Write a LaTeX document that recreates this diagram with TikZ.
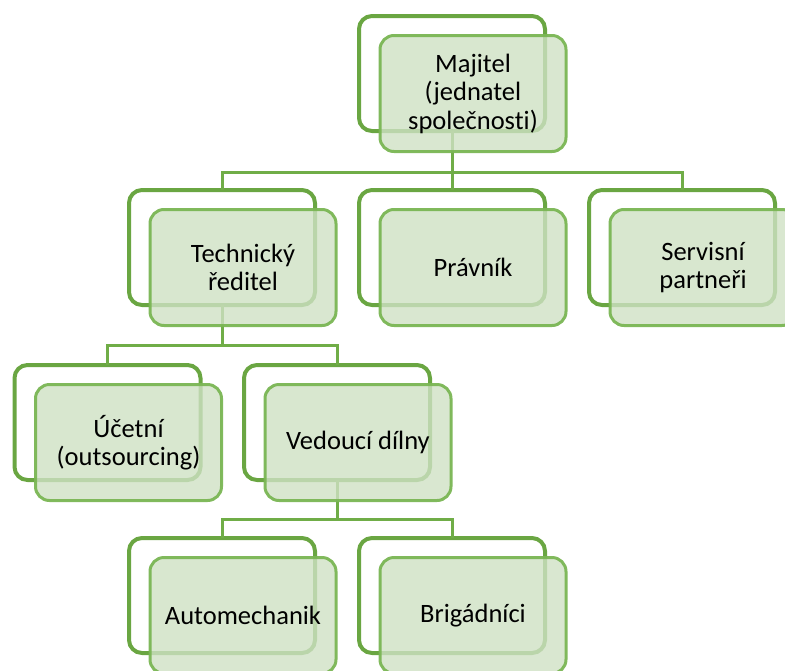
\documentclass[tikz,border=0pt]{standalone}
\usepackage{fontspec}
\setmainfont[Ligatures=NoCommon]{Carlito}
\definecolor{backgreen}{RGB}{106,166,66}
\definecolor{frontgreen}{RGB}{122,182,84}
\definecolor{fillgreen}{RGB}{207,225,196}
\definecolor{linegreen}{RGB}{112,173,71}
\begin{document}
\begin{tikzpicture}[x=1pt,y=1pt,
  back/.style={draw=backgreen, line width=4pt, fill=white, rounded corners=13pt,
    minimum width=186pt, minimum height=115pt, inner sep=0pt, outer sep=0pt},
  front/.style={draw=frontgreen, line width=3pt, fill=fillgreen, fill opacity=0.8,
    draw opacity=0.95, text opacity=1, rounded corners=14pt,
    minimum width=186pt, minimum height=116pt, inner sep=0pt, outer sep=0pt,
    align=center, font=\fontsize{26.5}{28.5}\selectfont},
  conn/.style={draw=linegreen, line width=3pt}]
\useasboundingbox (0,0) rectangle (785,-670);
\clip (0,0) rectangle (785,-670);
% bus coordinates
\coordinate (bus1) at (0,-172);
\coordinate (bus2) at (0,-345);
\coordinate (bus3) at (0,-519);
% back frames
\node[back] (Mb) at (452,-73.5) {};
\node[back] (Tb) at (222,-247.5) {};
\node[back] (Pb) at (452,-247.5) {};
\node[back] (Sb) at (682,-247.5) {};
\node[back] (Ub) at (107.5,-422.5) {};
\node[back] (Vb) at (337,-422.5) {};
\node[back] (Ab) at (222,-595.5) {};
\node[back] (Bb) at (452,-595.5) {};
% connectors
\draw[conn] (Mb.south) -- (Mb.south |- bus1);
\draw[conn] (Tb.north) |- (Sb.north |- bus1) -- (Sb.north);
\draw[conn] (Pb.north) -- (Pb.north |- bus1);
\draw[conn] (Tb.south) -- (Tb.south |- bus2);
\draw[conn] (Ub.north) |- (Vb.north |- bus2) -- (Vb.north);
\draw[conn] (Vb.south) -- (Vb.south |- bus3);
\draw[conn] (Ab.north) |- (Bb.north |- bus3) -- (Bb.north);
% front boxes
\node[front] (M) at (473,-93.5) {Majitel\\(jednatel\\společnosti)};
\node[front] (T) at (243,-267.5) {Technický\\ředitel};
\node[front] (P) at (473,-267.5) {Právník};
\node[front] (S) at (703,-267.5) {Servisní\\partneři};
\node[front] (U) at (128.5,-442.5) {Účetní\\(outsourcing)};
\node[front] (V) at (358,-442.5) {Vedoucí dílny};
\node[front] (A) at (243,-615.5) {Automechanik};
\node[front] (B) at (473,-615.5) {Brigádníci};
\end{tikzpicture}
\end{document}
